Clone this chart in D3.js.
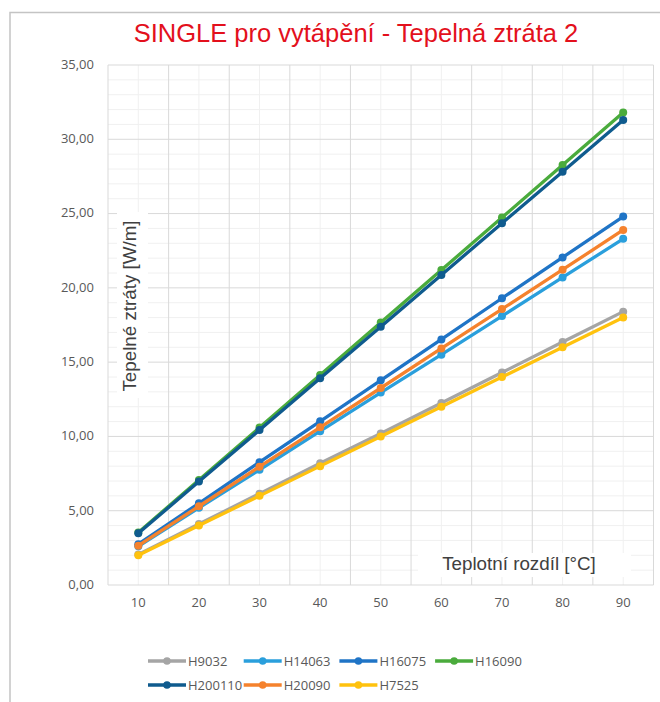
<!DOCTYPE html>
<html>
<head>
<meta charset="utf-8">
<script src="https://cdn.jsdelivr.net/npm/d3@7"></script>
<style>
  body { margin: 0; background: #fff; }
  svg { display: block; }
</style>
</head>
<body>
<svg id="chart"></svg>
<script>
var categories = [10, 20, 30, 40, 50, 60, 70, 80, 90];
var seriesNames = ["H9032", "H14063", "H16075", "H16090", "H200110", "H20090", "H7525"];
var H9032   = [2.05, 4.10, 6.15, 8.20, 10.20, 12.25, 14.30, 16.35, 18.40];
var H14063  = [2.60, 5.20, 7.75, 10.35, 12.95, 15.50, 18.10, 20.70, 23.30];
var H16075  = [2.75, 5.50, 8.27, 11.02, 13.78, 16.53, 19.30, 22.05, 24.80];
var H16090  = [3.53, 7.07, 10.60, 14.13, 17.67, 21.20, 24.73, 28.27, 31.80];
var H200110 = [3.48, 6.96, 10.43, 13.91, 17.39, 20.87, 24.35, 27.82, 31.30];
var H20090  = [2.65, 5.30, 7.96, 10.61, 13.26, 15.92, 18.57, 21.22, 23.90];
var H7525   = [2.00, 4.00, 6.00, 8.00, 10.00, 12.00, 14.00, 16.00, 18.00];
var yTicks = [0, 5, 10, 15, 20, 25, 30, 35];
var colors = ["#a5a5a5", "#2a9fdc", "#1f74c6", "#4aab3c", "#0f5b8e", "#f5822d", "#ffc20e"];

var values = [H9032, H14063, H16075, H16090, H200110, H20090, H7525];
var series = seriesNames.map(function(n, i) {
  return { name: n, color: colors[i], values: values[i] };
});

var W = 660, H = 702;
var pLeft = 108, pRight = 653.5, pTop = 65, pBottom = 585;

var svg = d3.select("#chart").attr("width", W).attr("height", H);

// chart frame
svg.append("path")
   .attr("d", "M10,702 V12.5 H660")
   .attr("fill", "none")
   .attr("stroke", "#c4c4c4")
   .attr("stroke-width", 1.5);

var x = d3.scaleBand().domain(categories).range([pLeft, pRight]);
var y = d3.scaleLinear().domain([0, 35]).range([pBottom, pTop]);
var xc = function(d) { return x(d) + x.bandwidth() / 2; };

// minor grid
var g = svg.append("g");
g.selectAll("line.hmin")
  .data(d3.range(0, 35, 1).filter(function(v) { return v % 5 != 0; }))
  .enter().append("line")
  .attr("x1", pLeft).attr("x2", pRight)
  .attr("y1", function(d) { return y(d); }).attr("y2", function(d) { return y(d); })
  .attr("stroke", "#f0f0f0").attr("stroke-width", 1);
g.selectAll("line.vmin")
  .data(categories)
  .enter().append("line")
  .attr("x1", xc).attr("x2", xc)
  .attr("y1", pTop).attr("y2", pBottom)
  .attr("stroke", "#f0f0f0").attr("stroke-width", 1);

// major grid
g.selectAll("line.hmaj")
  .data(yTicks)
  .enter().append("line")
  .attr("x1", pLeft).attr("x2", pRight)
  .attr("y1", function(d) { return y(d); }).attr("y2", function(d) { return y(d); })
  .attr("stroke", "#d9d9d9").attr("stroke-width", 1);
g.selectAll("line.vmaj")
  .data(categories.concat(["end"]))
  .enter().append("line")
  .attr("x1", function(d, i) { return pLeft + i * x.bandwidth(); })
  .attr("x2", function(d, i) { return pLeft + i * x.bandwidth(); })
  .attr("y1", pTop).attr("y2", pBottom)
  .attr("stroke", "#d9d9d9").attr("stroke-width", 1);

// tick labels
svg.selectAll("text.ytick")
  .data(yTicks)
  .enter().append("text")
  .attr("x", 94)
  .attr("y", function(d) { return y(d); })
  .attr("dy", "0.3em")
  .attr("text-anchor", "end")
  .style("font-family", "'Open Sans', sans-serif")
  .style("font-size", "13px")
  .attr("fill", "#595959")
  .text(function(d) { return d3.format(".2f")(d).replace(".", ","); });

svg.selectAll("text.xtick")
  .data(categories)
  .enter().append("text")
  .attr("x", xc)
  .attr("y", 607)
  .attr("text-anchor", "middle")
  .style("font-family", "'Open Sans', sans-serif")
  .style("font-size", "13px")
  .attr("fill", "#595959")
  .text(function(d) { return d; });

// axis titles with white boxes
svg.append("rect").attr("x", 117).attr("y", 212).attr("width", 31).attr("height", 186).attr("fill", "#fff");
svg.append("text")
  .attr("transform", "translate(136,306) rotate(-90)")
  .attr("text-anchor", "middle")
  .style("font-family", "'Liberation Sans', Arial, sans-serif")
  .style("font-size", "18.8px")
  .attr("fill", "#404040")
  .text("Tepelné ztráty [W/m]");

svg.append("rect").attr("x", 418).attr("y", 553).attr("width", 213).attr("height", 24).attr("fill", "#fff");
svg.append("text")
  .attr("x", 519).attr("y", 570)
  .attr("text-anchor", "middle")
  .style("font-family", "'Liberation Sans', Arial, sans-serif")
  .style("font-size", "18.8px")
  .attr("fill", "#404040")
  .text("Teplotní rozdíl [°C]");

// title
svg.append("text")
  .attr("x", 356).attr("y", 42)
  .attr("text-anchor", "middle")
  .style("font-family", "'Liberation Sans', Arial, sans-serif")
  .style("font-size", "25.5px")
  .attr("fill", "#e3101c")
  .text("SINGLE pro vytápění - Tepelná ztráta 2");

// series
var line = d3.line()
  .x(function(d, i) { return xc(categories[i]); })
  .y(function(d) { return y(d); });

var sg = svg.selectAll("g.series")
  .data(series)
  .enter().append("g");
sg.append("path")
  .attr("d", function(d) { return line(d.values); })
  .attr("fill", "none")
  .attr("stroke", function(d) { return d.color; })
  .attr("stroke-width", 3.3)
  .attr("stroke-linejoin", "round");
sg.selectAll("circle")
  .data(function(d) { return d.values.map(function(v, i) { return { v: v, i: i, color: d.color }; }); })
  .enter().append("circle")
  .attr("cx", function(d) { return xc(categories[d.i]); })
  .attr("cy", function(d) { return y(d.v); })
  .attr("r", 4)
  .attr("fill", function(d) { return d.color; });

// legend
var lg = svg.selectAll("g.legend")
  .data(series)
  .enter().append("g")
  .attr("transform", function(d, i) {
    return "translate(" + (148 + (i % 4) * 95.7) + "," + (661 + Math.floor(i / 4) * 24) + ")";
  });
lg.append("line")
  .attr("x1", 0).attr("x2", 38)
  .attr("stroke", function(d) { return d.color; })
  .attr("stroke-width", 3.3);
lg.append("circle")
  .attr("cx", 19).attr("r", 3.8)
  .attr("fill", function(d) { return d.color; });
lg.append("text")
  .attr("x", 40).attr("dy", "0.35em")
  .style("font-family", "'Open Sans', sans-serif")
  .style("font-size", "13px")
  .attr("fill", "#595959")
  .text(function(d) { return d.name; });
</script>
</body>
</html>
